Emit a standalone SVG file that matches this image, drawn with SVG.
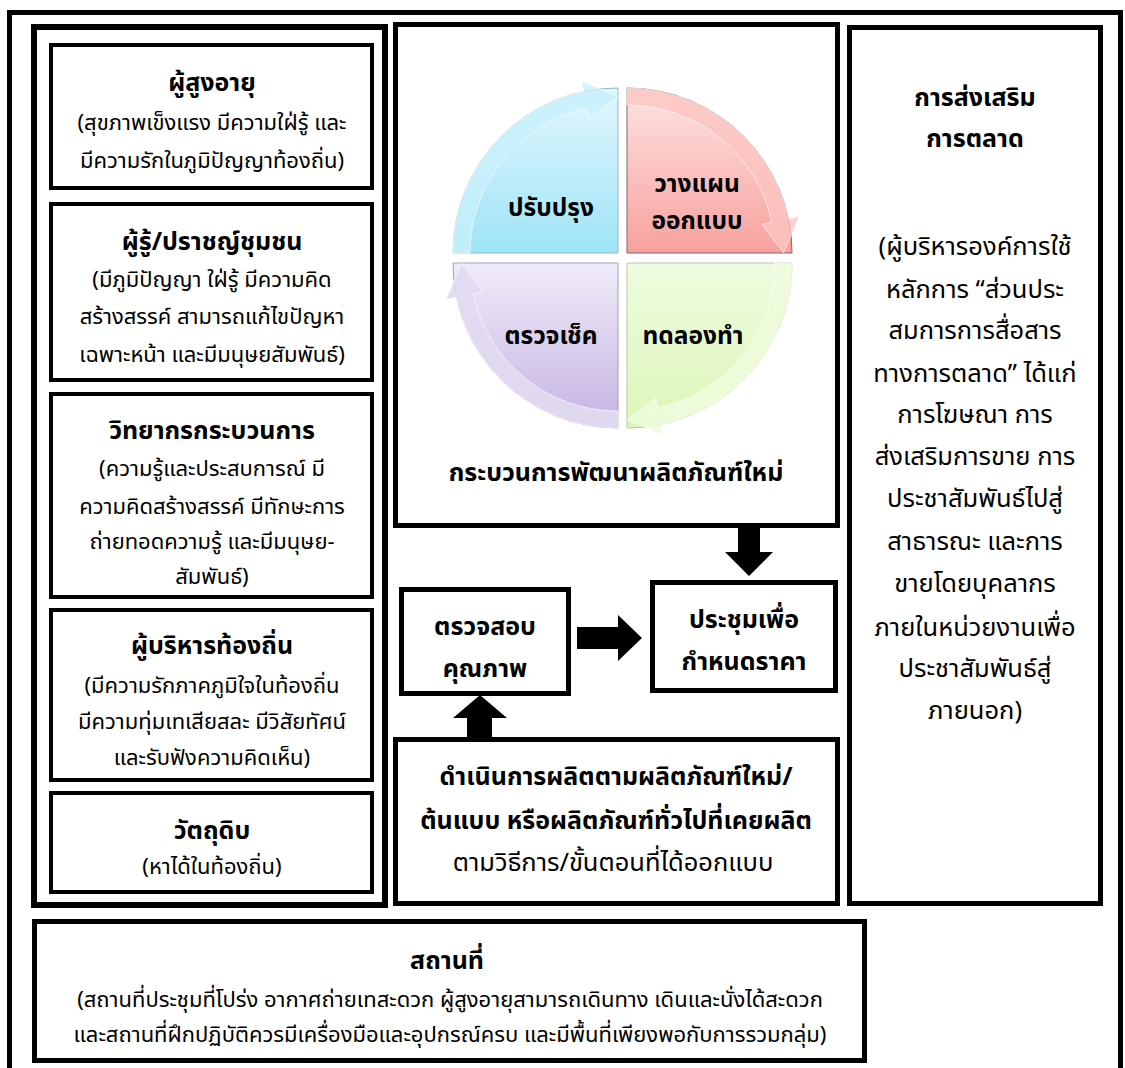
<svg xmlns="http://www.w3.org/2000/svg" width="1125" height="1068" viewBox="0 0 1125 1068">
<defs>
<style>
.frame{fill:none;stroke:#000}
.box{fill:#fff;stroke:#000;stroke-width:4}
.bx5{fill:#fff;stroke:#000;stroke-width:5}
text{font-family:"Noto Sans Thai","Noto Sans Thai UI","Noto Sans","DejaVu Sans",sans-serif;fill:#000;text-anchor:middle}
.t{font-size:25px;font-weight:bold}
.s{font-size:22px}
.r{font-size:25.5px}
.c{font-size:24.5px;font-weight:bold}
.blk{fill:#000}
.band{stroke:#fff;stroke-opacity:0.6;stroke-width:1}
</style>
<linearGradient id="gB" x1="0" y1="0" x2="0" y2="1"><stop offset="0" stop-color="#e2f6fd"/><stop offset="1" stop-color="#9fe4f7"/></linearGradient>
<linearGradient id="gR" x1="0" y1="0" x2="0" y2="1"><stop offset="0" stop-color="#fde3e3"/><stop offset="1" stop-color="#f7a19d"/></linearGradient>
<linearGradient id="gG" x1="0" y1="0" x2="0" y2="1"><stop offset="0" stop-color="#effbe0"/><stop offset="1" stop-color="#dcf6b8"/></linearGradient>
<linearGradient id="gP" x1="0" y1="0" x2="0" y2="1"><stop offset="0" stop-color="#efebf8"/><stop offset="1" stop-color="#c5b3e3"/></linearGradient>
<path id="arr" d="M-165,0 A165,165 0 0 1 -34.3,-161.4 L-36.6,-172.1 L0,-156.5 L-28.7,-135 L-30.8,-144.8 A148,148 0 0 0 -148,0 Z"/>
</defs>
<rect width="1125" height="1068" fill="#fff"/>
<rect class="frame" x="9.5" y="12.5" width="1111" height="1080" stroke-width="5"/>

<g id="left-column">
<rect class="frame" x="34" y="27" width="351" height="878" stroke-width="6"/>
</g>

<g id="node-elderly">
<rect class="box" x="51" y="45" width="321" height="143"/>
<text class="t" x="212" y="91">ผู้สูงอายุ</text>
<text class="s" x="212" y="130">(สุขภาพเข็งแรง มีความใฝ่รู้ และ</text>
<text class="s" x="212" y="168">มีความรักในภูมิปัญญาท้องถิ่น)</text>
</g>
<g id="node-sage">
<rect class="box" x="51" y="204" width="321" height="176"/>
<text class="t" x="212" y="250">ผู้รู้/ปราชญ์ชุมชน</text>
<text class="s" x="212" y="287">(มีภูมิปัญญา ใฝ่รู้ มีความคิด</text>
<text class="s" x="212" y="324">สร้างสรรค์ สามารถแก้ไขปัญหา</text>
<text class="s" x="212" y="362">เฉพาะหน้า และมีมนุษยสัมพันธ์)</text>
</g>
<g id="node-facilitator">
<rect class="box" x="51" y="394" width="321" height="203"/>
<text class="t" x="212" y="439">วิทยากรกระบวนการ</text>
<text class="s" x="212" y="476">(ความรู้และประสบการณ์ มี</text>
<text class="s" x="212" y="514">ความคิดสร้างสรรค์ มีทักษะการ</text>
<text class="s" x="212" y="549">ถ่ายทอดความรู้ และมีมนุษย-</text>
<text class="s" x="212" y="584">สัมพันธ์)</text>
</g>
<g id="node-admin">
<rect class="box" x="51" y="610" width="321" height="170"/>
<text class="t" x="212" y="654">ผู้บริหารท้องถิ่น</text>
<text class="s" x="212" y="693">(มีความรักภาคภูมิใจในท้องถิ่น</text>
<text class="s" x="212" y="729">มีความทุ่มเทเสียสละ มีวิสัยทัศน์</text>
<text class="s" x="212" y="765">และรับฟังความคิดเห็น)</text>
</g>
<g id="node-material">
<rect class="box" x="51" y="793" width="321" height="99"/>
<text class="t" x="212" y="839">วัตถุดิบ</text>
<text class="s" x="212" y="874">(หาได้ในท้องถิ่น)</text>
</g>

<g id="node-cycle">
<rect class="bx5" x="395.5" y="24.5" width="442" height="501"/>
<path d="M618,253 L453,253 A165,165 0 0 1 618,88 Z" fill="url(#gB)" stroke="#8fb8c4" stroke-width="1"/>
<path d="M627,253 L627,88 A165,165 0 0 1 792,253 Z" fill="url(#gR)" stroke="#7a6a6a" stroke-width="1"/>
<path d="M627,263 L792,263 A165,165 0 0 1 627,428 Z" fill="url(#gG)" stroke="#b8c8a8" stroke-width="1"/>
<path d="M618,263 L618,428 A165,165 0 0 1 453,263 Z" fill="url(#gP)" stroke="#a89cc0" stroke-width="1"/>
<use href="#arr" transform="translate(618,253)" fill="#c8f0fb" fill-opacity="0.8" class="band"/>
<use href="#arr" transform="translate(627,253) rotate(90)" fill="#fbc4c2" fill-opacity="0.8" class="band"/>
<use href="#arr" transform="translate(627,263) rotate(180)" fill="#eefbdc" fill-opacity="0.9" class="band"/>
<use href="#arr" transform="translate(618,263) rotate(270)" fill="#e2daf2" fill-opacity="0.9" class="band"/>
<text class="c" x="551" y="216">ปรับปรุง</text>
<text class="c" x="697" y="192">วางแผน</text>
<text class="c" x="697" y="229">ออกแบบ</text>
<text class="c" x="551" y="344">ตรวจเช็ค</text>
<text class="c" x="693" y="344">ทดลองทำ</text>
<text class="t" x="616" y="481">กระบวนการพัฒนาผลิตภัณฑ์ใหม่</text>
</g>

<g id="node-marketing">
<rect class="bx5" x="849.5" y="27.5" width="251" height="876"/>
<text class="t" x="975" y="106">การส่งเสริม</text>
<text class="t" x="975" y="147">การตลาด</text>
<text class="r" x="975" y="255">(ผู้บริหารองค์การใช้</text>
<text class="r" x="975" y="298">หลักการ “ส่วนประ</text>
<text class="r" x="975" y="339">สมการการสื่อสาร</text>
<text class="r" x="975" y="382">ทางการตลาด” ได้แก่</text>
<text class="r" x="975" y="423">การโฆษณา การ</text>
<text class="r" x="975" y="465">ส่งเสริมการขาย การ</text>
<text class="r" x="975" y="507">ประชาสัมพันธ์ไปสู่</text>
<text class="r" x="975" y="550">สาธารณะ และการ</text>
<text class="r" x="975" y="592">ขายโดยบุคลากร</text>
<text class="r" x="975" y="636">ภายในหน่วยงานเพื่อ</text>
<text class="r" x="975" y="677">ประชาสัมพันธ์สู่</text>
<text class="r" x="975" y="719">ภายนอก)</text>
</g>

<g id="node-quality">
<rect class="bx5" x="401.5" y="589.5" width="167" height="104"/>
<text class="t" x="485" y="635">ตรวจสอบ</text>
<text class="t" x="485" y="677">คุณภาพ</text>
</g>
<g id="node-price">
<rect class="bx5" x="652.5" y="582.5" width="183" height="108"/>
<text class="t" x="744" y="628">ประชุมเพื่อ</text>
<text class="t" x="744" y="670">กำหนดราคา</text>
</g>
<g id="node-production">
<rect class="bx5" x="395.5" y="739.5" width="442" height="164"/>
<text class="t" x="616" y="785">ดำเนินการผลิตตามผลิตภัณฑ์ใหม่/</text>
<text class="t" x="616" y="829">ต้นแบบ หรือผลิตภัณฑ์ทั่วไปที่เคยผลิต</text>
<text class="r" x="613" y="871">ตามวิธีการ/ขั้นตอนที่ได้ออกแบบ</text>
</g>
<g id="node-place">
<rect class="bx5" x="34.5" y="921.5" width="830" height="139"/>
<text class="t" x="447" y="969">สถานที่</text>
<text class="s" x="450" y="1007">(สถานที่ประชุมที่โปร่ง อากาศถ่ายเทสะดวก ผู้สูงอายุสามารถเดินทาง เดินและนั่งได้สะดวก</text>
<text class="s" x="450" y="1042">และสถานที่ฝึกปฏิบัติควรมีเครื่องมือและอุปกรณ์ครบ และมีพื้นที่เพียงพอกับการรวมกลุ่ม)</text>
</g>

<g id="connectors">
<path class="blk" d="M738,527 L760,527 L760,552 L773,552 L749,576 L725,552 L738,552 Z"/>
<path class="blk" d="M577,627 L618,627 L618,615 L642,638 L618,661 L618,649 L577,649 Z"/>
<path class="blk" d="M467,737 L467,718 L453,718 L480,695 L507,718 L492,718 L492,737 Z"/>
</g>
</svg>
